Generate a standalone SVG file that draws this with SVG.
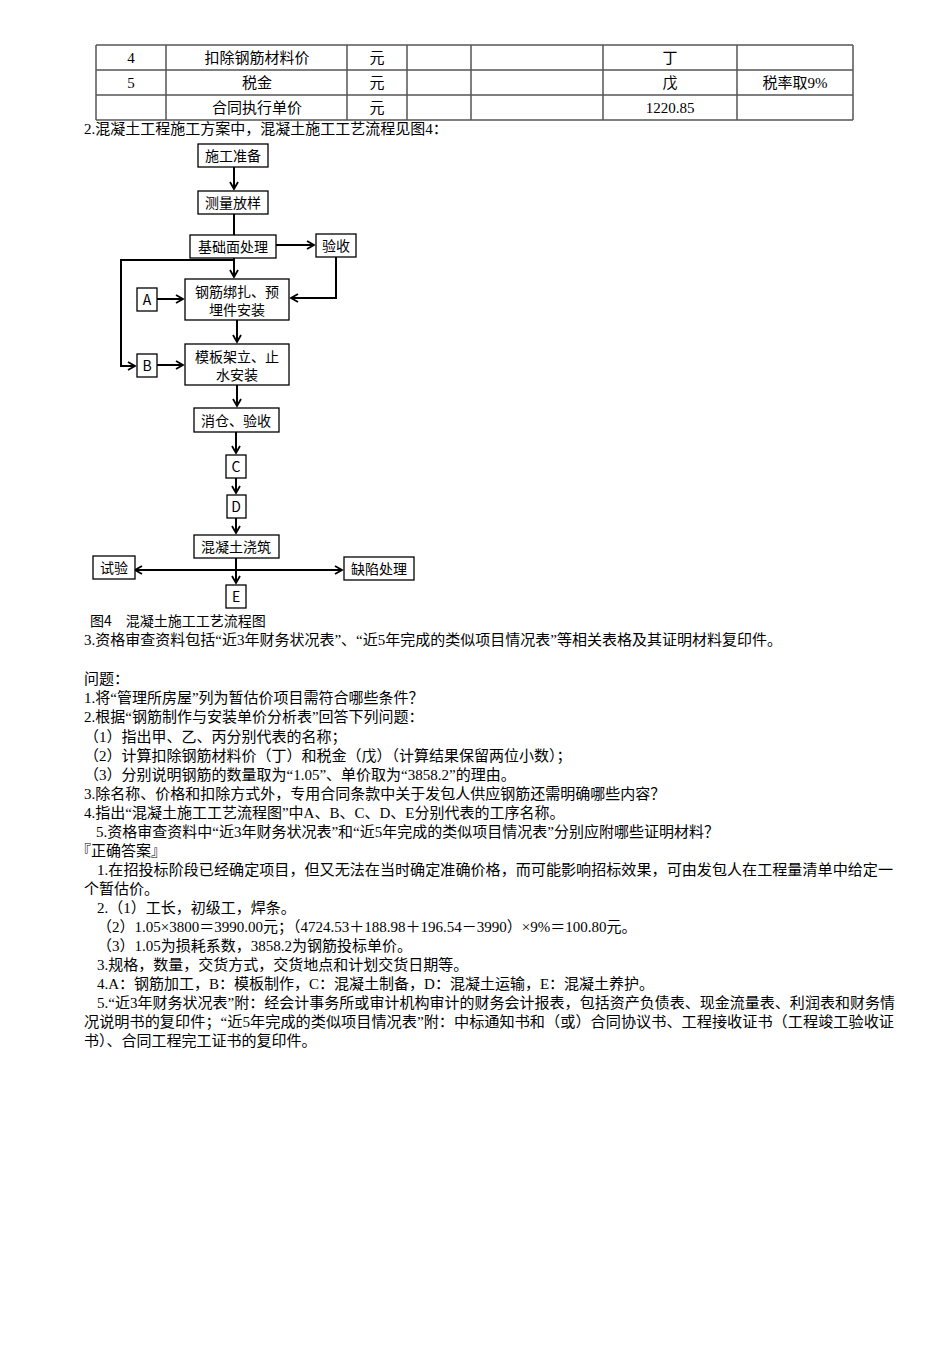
<svg xmlns="http://www.w3.org/2000/svg" width="950" height="1345" viewBox="0 0 950 1345">
<style>
text{font-family:"Liberation Serif","Noto Sans CJK SC",serif;font-size:15px;fill:#000}
.c{text-anchor:middle}
.f{font-family:"Noto Sans CJK SC","Liberation Sans",sans-serif;font-size:14px;text-anchor:middle}
.t line{stroke:#555;stroke-width:1.5}
.n rect{fill:#fff;stroke:#000;stroke-width:1.3}
.k path{fill:none;stroke:#000;stroke-width:2;marker-end:url(#ah)}
</style>
<defs><marker id="ah" markerWidth="10" markerHeight="10" refX="8" refY="5" orient="auto" markerUnits="userSpaceOnUse"><path d="M1,1 L8,5 L1,9" fill="none" stroke="#000" stroke-width="1.8"/></marker>
<marker id="as" markerWidth="10" markerHeight="10" refX="2" refY="5" orient="auto" markerUnits="userSpaceOnUse"><path d="M9,1 L2,5 L9,9" fill="none" stroke="#000" stroke-width="1.8"/></marker></defs>
<rect width="950" height="1345" fill="#fff"/>
<g class="t">
<line x1="96" y1="45" x2="853" y2="45"/><line x1="96" y1="70" x2="853" y2="70"/><line x1="96" y1="95" x2="853" y2="95"/><line x1="96" y1="120" x2="853" y2="120"/>
<line x1="96" y1="45" x2="96" y2="120"/><line x1="166" y1="45" x2="166" y2="120"/><line x1="347" y1="45" x2="347" y2="120"/><line x1="407" y1="45" x2="407" y2="120"/><line x1="471" y1="45" x2="471" y2="120"/><line x1="603" y1="45" x2="603" y2="120"/><line x1="737" y1="45" x2="737" y2="120"/><line x1="853" y1="45" x2="853" y2="120"/>
</g>
<text class="c" x="131" y="63">4</text><text class="c" x="257" y="63">扣除钢筋材料价</text><text class="c" x="377" y="63">元</text><text class="c" x="670" y="63">丁</text>
<text class="c" x="131" y="88">5</text><text class="c" x="257" y="88">税金</text><text class="c" x="377" y="88">元</text><text class="c" x="670" y="88">戊</text><text class="c" x="795" y="88">税率取9%</text>
<text class="c" x="257" y="113">合同执行单价</text><text class="c" x="377" y="113">元</text><text class="c" x="670" y="113">1220.85</text>
<text x="84" y="134">2.混凝土工程施工方案中，混凝土施工工艺流程见图4：</text>
<g class="k" id="connectors">
<path d="M234,167 V189"/><path d="M234,214 V277"/>
<path d="M276,245 H314"/><path d="M336,257 V298 H291"/>
<path d="M157,299 H183"/><path d="M157,365 H183"/>
<path d="M234,260 H121 V366 H135"/>
<path d="M237,320 V342"/><path d="M237,385 V406"/><path d="M236,432 V453"/><path d="M236,478 V493"/><path d="M236,518 V533"/><path d="M236,558 V583"/>
<path d="M135,570 H342" marker-start="url(#as)"/>
</g>
<g class="n">
<g id="n1"><rect x="198" y="144" width="70" height="23"/><text class="f" x="233" y="161">施工准备</text></g>
<g id="n2"><rect x="198" y="191" width="70" height="23"/><text class="f" x="233" y="208">测量放样</text></g>
<g id="n3"><rect x="190" y="235" width="86" height="23"/><text class="f" x="233" y="252">基础面处理</text></g>
<g id="n4"><rect x="316" y="234" width="40" height="23"/><text class="f" x="336" y="251">验收</text></g>
<g id="n5"><rect x="185" y="279" width="104" height="41"/><text class="f" x="237" y="297">钢筋绑扎、预</text><text class="f" x="237" y="315">埋件安装</text></g>
<g id="nA"><rect x="137" y="288" width="20" height="23"/><text class="f" x="147" y="305">A</text></g>
<g id="n6"><rect x="185" y="344" width="104" height="41"/><text class="f" x="237" y="362">模板架立、止</text><text class="f" x="237" y="380">水安装</text></g>
<g id="nB"><rect x="137" y="354" width="20" height="23"/><text class="f" x="147" y="371">B</text></g>
<g id="n7"><rect x="194" y="408" width="85" height="24"/><text class="f" x="236" y="426">消仓、验收</text></g>
<g id="nC"><rect x="226" y="455" width="20" height="23"/><text class="f" x="236" y="472">C</text></g>
<g id="nD"><rect x="227" y="495" width="19" height="23"/><text class="f" x="236" y="512">D</text></g>
<g id="n8"><rect x="194" y="535" width="85" height="23"/><text class="f" x="236" y="552">混凝土浇筑</text></g>
<g id="n9"><rect x="93" y="556" width="42" height="23"/><text class="f" x="114" y="573">试验</text></g>
<g id="n10"><rect x="344" y="557" width="70" height="23"/><text class="f" x="379" y="574">缺陷处理</text></g>
<g id="nE"><rect x="226" y="585" width="20" height="23"/><text class="f" x="236" y="602">E</text></g>
</g>
<text x="90" y="626" style="font-family:'Noto Sans CJK SC',sans-serif;font-size:14px">图4　混凝土施工工艺流程图</text>
<text x="84" y="645">3.资格审查资料包括“近3年财务状况表”、“近5年完成的类似项目情况表”等相关表格及其证明材料复印件。</text>
<text x="84" y="684">问题：</text>
<text x="84" y="703">1.将“管理所房屋”列为暂估价项目需符合哪些条件？</text>
<text x="84" y="722">2.根据“钢筋制作与安装单价分析表”回答下列问题：</text>
<text x="84" y="742">（1）指出甲、乙、丙分别代表的名称；</text>
<text x="84" y="761">（2）计算扣除钢筋材料价（丁）和税金（戊）（计算结果保留两位小数）；</text>
<text x="84" y="780">（3）分别说明钢筋的数量取为“1.05”、单价取为“3858.2”的理由。</text>
<text x="84" y="799">3.除名称、价格和扣除方式外，专用合同条款中关于发包人供应钢筋还需明确哪些内容？</text>
<text x="84" y="818">4.指出“混凝土施工工艺流程图”中A、B、C、D、E分别代表的工序名称。</text>
<text x="96" y="837">5.资格审查资料中“近3年财务状况表”和“近5年完成的类似项目情况表”分别应附哪些证明材料？</text>
<text x="76" y="856">『正确答案』</text>
<text x="97" y="875" textLength="796" lengthAdjust="spacingAndGlyphs">1.在招投标阶段已经确定项目，但又无法在当时确定准确价格，而可能影响招标效果，可由发包人在工程量清单中给定一</text>
<text x="84" y="894">个暂估价。</text>
<text x="97" y="913">2.（1）工长，初级工，焊条。</text>
<text x="97" y="932">（2）1.05×3800＝3990.00元；（4724.53＋188.98＋196.54－3990）×9%＝100.80元。</text>
<text x="97" y="951">（3）1.05为损耗系数，3858.2为钢筋投标单价。</text>
<text x="97" y="970">3.规格，数量，交货方式，交货地点和计划交货日期等。</text>
<text x="97" y="989">4.A：钢筋加工，B：模板制作，C：混凝土制备，D：混凝土运输，E：混凝土养护。</text>
<text x="97" y="1008" textLength="798" lengthAdjust="spacingAndGlyphs">5.“近3年财务状况表”附：经会计事务所或审计机构审计的财务会计报表，包括资产负债表、现金流量表、利润表和财务情</text>
<text x="84" y="1027" textLength="810" lengthAdjust="spacingAndGlyphs">况说明书的复印件；“近5年完成的类似项目情况表”附：中标通知书和（或）合同协议书、工程接收证书（工程竣工验收证</text>
<text x="84" y="1046">书）、合同工程完工证书的复印件。</text>
</svg>
